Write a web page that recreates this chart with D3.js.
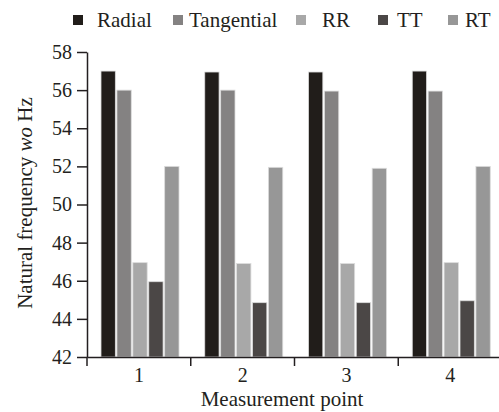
<!DOCTYPE html>
<html>
<head>
<meta charset="utf-8">
<script src="https://cdn.jsdelivr.net/npm/d3@7"></script>
<style>
  body { margin: 0; background: #fff; }
  svg text { font-family: "Liberation Serif", "Times New Roman", serif; fill: #231f20; }
</style>
</head>
<body>
<svg id="chart" width="499" height="412"></svg>
<script>
// measurement points and the five series
var points = ["1", "2", "3", "4"];
var seriesNames = ["Radial", "Tangential", "RR", "TT", "RT"];
var radial = [57.0, 56.95, 56.95, 57.0];
var tangential = [56.0, 56.0, 55.95, 55.95];
var rr = [46.95, 46.9, 46.9, 46.95];
var tt = [45.95, 44.85, 44.85, 44.95];
var rt = [52.0, 51.95, 51.9, 52.0];
var yTicks = [42, 44, 46, 48, 50, 52, 54, 56, 58];

var colors = ["#211d1a", "#848282", "#a8a8a8", "#4b4746", "#979797"];
var seriesVals = [radial, tangential, rr, tt, rt];
var serif = '"Liberation Serif", "Times New Roman", serif';

var svg = d3.select("#chart");

var x0 = d3.scaleBand().domain(points).range([87, 502]);
var x1 = d3.scaleBand().domain(seriesNames).range([14, 92]).paddingInner(0.1);
var y = d3.scaleLinear().domain([42, 58]).range([357, 52]);

// bars
var rows = points.map(function(p, i) {
  return { point: p, vals: seriesNames.map(function(s, j) { return { name: s, v: seriesVals[j][i], c: colors[j] }; }) };
});

svg.append("g").selectAll("g")
  .data(rows)
  .enter().append("g")
    .attr("transform", function(d) { return "translate(" + x0(d.point) + ",0)"; })
  .selectAll("rect")
  .data(function(d) { return d.vals; })
  .enter().append("rect")
    .attr("x", function(d) { return x1(d.name); })
    .attr("width", x1.bandwidth())
    .attr("y", function(d) { return y(d.v); })
    .attr("height", function(d) { return y(42) - y(d.v); })
    .attr("fill", function(d) { return d.c; })
    .attr("stroke", "#dcdcdc")
    .attr("stroke-width", 0.8);

// y axis
var yAxis = svg.append("g")
  .attr("transform", "translate(87,0)")
  .call(d3.axisLeft(y).tickValues(yTicks).tickSize(10).tickPadding(5).tickSizeOuter(0))
  .attr("font-family", serif).attr("font-size", 20);
yAxis.select(".domain").attr("stroke", "#231f20").attr("stroke-width", 1.5);
yAxis.selectAll(".tick line").attr("stroke", "#231f20").attr("stroke-width", 1.5);

// x axis: labels at centers, ticks at band boundaries
var xAxis = svg.append("g")
  .attr("transform", "translate(0,357)")
  .call(d3.axisBottom(x0).tickSize(0).tickPadding(11).tickSizeOuter(0))
  .attr("font-family", serif).attr("font-size", 20);
xAxis.select(".domain").attr("stroke", "#231f20").attr("stroke-width", 1.5);
xAxis.selectAll(".bound")
  .data(points)
  .enter().append("line")
    .attr("x1", function(d) { return x0(d); })
    .attr("x2", function(d) { return x0(d); })
    .attr("y1", 0).attr("y2", 9)
    .attr("stroke", "#231f20").attr("stroke-width", 1.5);

// axis titles
svg.append("text")
  .attr("x", 282).attr("y", 406)
  .attr("text-anchor", "middle")
  .style("font-size", "21px")
  .text("Measurement point");

var yt = svg.append("text")
  .attr("transform", "translate(32,203) rotate(-90)")
  .attr("text-anchor", "middle")
  .style("font-size", "21px");
yt.append("tspan").text("Natural frequency ");
yt.append("tspan").style("font-style", "italic").text("wo");
yt.append("tspan").text(" Hz");

// legend
var legX = [73, 173, 296, 378, 448];
var leg = svg.append("g").selectAll("g")
  .data(seriesNames)
  .enter().append("g")
    .attr("transform", function(d, i) { return "translate(" + legX[i] + ",15)"; });
leg.append("rect")
  .attr("width", 10).attr("height", 10)
  .attr("fill", function(d, i) { return colors[i]; });
leg.append("text")
  .attr("x", function(d, i) { return [24, 16, 26, 19, 17][i]; })
  .attr("y", 12)
  .style("font-size", "21px")
  .text(function(d) { return d; });
</script>
</body>
</html>
